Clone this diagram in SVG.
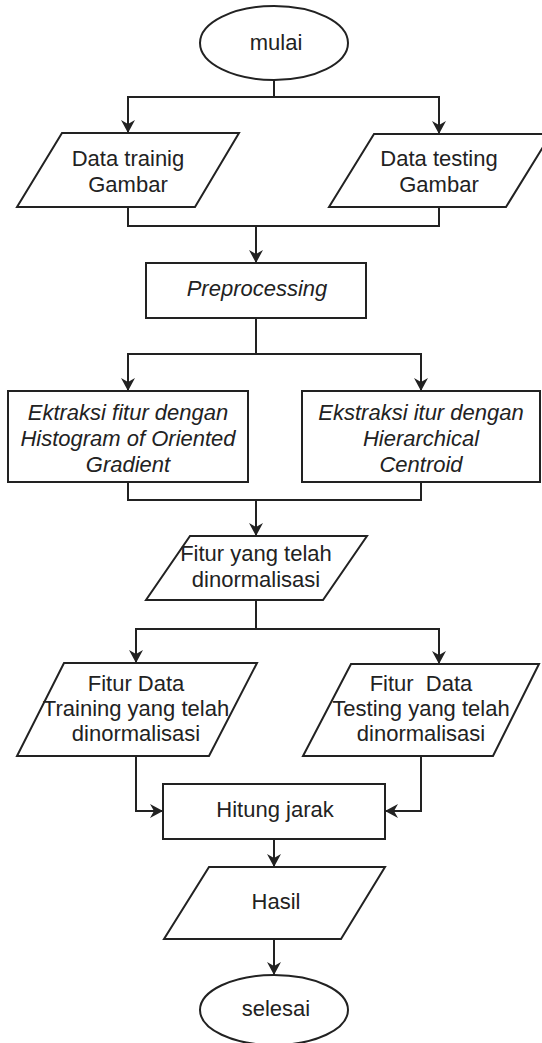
<svg xmlns="http://www.w3.org/2000/svg" width="542" height="1043" viewBox="0 0 542 1043">
  <style>
    .shape { fill: #ffffff; stroke: #222222; stroke-width: 2; }
    .edge { fill: none; stroke: #222222; stroke-width: 2; }
    .arrow { fill: none; stroke: #222222; stroke-width: 2; marker-end: url(#head); }
    text { font-family: "Liberation Sans", Arial, sans-serif; font-size: 22px; fill: #222222; text-anchor: middle; white-space: pre; }
    .it { font-style: italic; }
  </style>
  <defs>
    <marker id="head" markerUnits="userSpaceOnUse" markerWidth="16" markerHeight="16" viewBox="-14 -8 16 16" refX="0" refY="0" orient="auto">
      <path d="M0,0 L-13,-7 L-9,0 L-13,7 Z" fill="#222222" stroke="none"/>
    </marker>
  </defs>
  <rect width="542" height="1043" fill="#ffffff"/>

  <!-- connectors -->
  <g id="connectors">
    <path class="arrow" d="M274,80 V97 H128 V133"/>
    <path class="arrow" d="M274,97 H439 V134"/>
    <path class="edge" d="M128,207 V226 H439 V207"/>
    <path class="arrow" d="M256,226 V263"/>
    <path class="arrow" d="M256,318 V354 H128 V391"/>
    <path class="arrow" d="M256,354 H421 V391"/>
    <path class="edge" d="M128,482 V500 H421 V482"/>
    <path class="arrow" d="M256,500 V536"/>
    <path class="arrow" d="M256,600 V629 H136 V663"/>
    <path class="arrow" d="M256,629 H439 V664"/>
    <path class="arrow" d="M136,756 V811 H163"/>
    <path class="arrow" d="M421,756 V811 H385"/>
    <path class="arrow" d="M274,839 V867"/>
    <path class="arrow" d="M274,939 V975"/>
  </g>

  <!-- start terminal -->
  <g id="mulai">
    <ellipse class="shape" cx="274" cy="43" rx="74" ry="37"/>
    <text x="276" y="50">mulai</text>
  </g>

  <g id="data-training">
    <polygon class="shape" points="62,133 239,133 195,207 17,207"/>
    <text x="128" y="166">Data trainig</text>
    <text x="128" y="192">Gambar</text>
  </g>

  <g id="data-testing">
    <polygon class="shape" points="374,134 551,134 506,207 329,207"/>
    <text x="439" y="166">Data testing</text>
    <text x="439" y="192">Gambar</text>
  </g>

  <g id="preprocessing">
    <rect class="shape" x="146" y="263" width="220" height="55"/>
    <text class="it" x="257" y="296">Preprocessing</text>
  </g>

  <g id="ekstraksi-hog">
    <rect class="shape" x="8" y="391" width="240" height="91"/>
    <text class="it" x="128" y="420">Ektraksi fitur dengan</text>
    <text class="it" x="128" y="446">Histogram of Oriented</text>
    <text class="it" x="128" y="472">Gradient</text>
  </g>

  <g id="ekstraksi-hc">
    <rect class="shape" x="302" y="391" width="238" height="91"/>
    <text class="it" x="421" y="420">Ekstraksi itur dengan</text>
    <text class="it" x="421" y="446">Hierarchical</text>
    <text class="it" x="421" y="472">Centroid</text>
  </g>

  <g id="fitur-normal">
    <polygon class="shape" points="190,536 367,536 323,600 146,600"/>
    <text x="256" y="561">Fitur yang telah</text>
    <text x="256" y="587">dinormalisasi</text>
  </g>

  <g id="fitur-training">
    <polygon class="shape" points="64,663 257,663 209,756 17,756"/>
    <text x="136" y="691">Fitur Data</text>
    <text x="136" y="716">Training yang telah</text>
    <text x="136" y="741">dinormalisasi</text>
  </g>

  <g id="fitur-testing">
    <polygon class="shape" points="351,664 539,664 493,756 303,756"/>
    <text x="421" y="691">Fitur  Data</text>
    <text x="421" y="716">Testing yang telah</text>
    <text x="421" y="741">dinormalisasi</text>
  </g>

  <g id="hitung-jarak">
    <rect class="shape" x="163" y="784" width="222" height="55"/>
    <text x="275" y="817">Hitung jarak</text>
  </g>

  <g id="hasil">
    <polygon class="shape" points="209,867 385,867 341,939 164,939"/>
    <text x="276" y="909">Hasil</text>
  </g>

  <!-- end terminal -->
  <g id="selesai">
    <ellipse class="shape" cx="274" cy="1010" rx="74" ry="35"/>
    <text x="276" y="1016">selesai</text>
  </g>
</svg>
